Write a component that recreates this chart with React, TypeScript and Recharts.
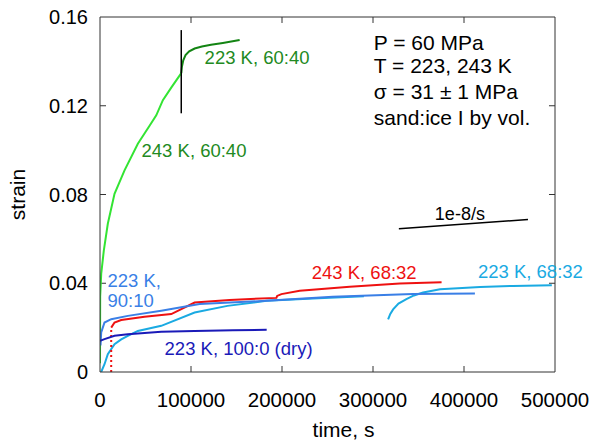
import React from 'react';
import { LineChart, Line, XAxis, YAxis, ReferenceDot, ReferenceLine } from 'recharts';

const FONT = '"Liberation Sans", Arial, Helvetica, sans-serif';
const FRAME = '#333';

const X_TICKS = [0, 100000, 200000, 300000, 400000, 500000];
const Y_TICKS = [0, 0.04, 0.08, 0.12, 0.16];
const X_MAX = 500000;
const Y_MAX = 0.16;
// inward tick length, in data units (about 6 px each way)
const X_TICK_LEN = 0.0027;
const Y_TICK_LEN = 6600;

// 243 K, 60:40 (light green)
const warm6040Time = [0, 200, 1320, 4180, 8580, 15950, 26950, 41580, 54460, 61830, 69090, 78660, 89330];
const warm6040Strain = [0.004, 0.034, 0.0442, 0.0547, 0.0668, 0.0803, 0.0909, 0.1029, 0.111, 0.1157, 0.1225, 0.1284, 0.1347];

// 223 K, 60:40 (dark green)
const cold6040Time = [89330, 90000, 91500, 94000, 98000, 104000, 112000, 122000, 135000, 153460];
const cold6040Strain = [0.1347, 0.1375, 0.1405, 0.1428, 0.1445, 0.1458, 0.1467, 0.1475, 0.1483, 0.1496];

// 223 K, 68:32 (cyan), two runs
const cold6832aTime = [1300, 4950, 8580, 15950, 23320, 30580, 41580, 67330, 103960, 140000, 183000, 240000, 290000];
const cold6832aStrain = [0.0, 0.0035, 0.008, 0.0125, 0.0147, 0.0163, 0.0185, 0.0208, 0.0268, 0.0298, 0.0321, 0.0332, 0.0341];
const cold6832bTime = [316600, 319000, 322100, 328000, 336700, 345000, 355000, 373700, 417700, 454000, 496500];
const cold6832bStrain = [0.0237, 0.0262, 0.0282, 0.0308, 0.0328, 0.0345, 0.0358, 0.0373, 0.0383, 0.0388, 0.0391];

// 243 K, 68:32 (red)
const warm6832RiseTime = [12300, 12320];
const warm6832RiseStrain = [0.0, 0.02];
const warm6832Time = [12320, 15950, 23320, 48950, 78330, 103960, 142460, 193840, 194700, 199340, 219470, 274480, 329480, 375360];
const warm6832Strain = [0.02, 0.0223, 0.0234, 0.0249, 0.0261, 0.0313, 0.0325, 0.0334, 0.0343, 0.0351, 0.0366, 0.0384, 0.0399, 0.0404];

// 223 K, 90:10 (blue)
const cold9010Time = [550, 1320, 4950, 12320, 30580, 67330, 109460, 182840, 255780, 343780, 411990];
const cold9010Strain = [0.012, 0.0178, 0.0223, 0.0238, 0.0253, 0.0276, 0.0306, 0.0321, 0.0339, 0.0351, 0.0354];

// 223 K, 100:0 dry (dark blue)
const cold1000Time = [0, 4950, 15950, 30580, 67330, 103960, 146090, 183170];
const cold1000Strain = [0.014, 0.0148, 0.0163, 0.017, 0.0181, 0.0185, 0.0188, 0.019];

// reference marks
const splitTime = [89300, 89300];
const splitStrain = [0.1166, 0.1541];
const rateTime = [328400, 470300];
const rateStrain = [0.0646, 0.0687];

// text labels
const noteText = [
  '223 K, 60:40', '243 K, 60:40', '223 K,', '90:10', '223 K, 100:0 (dry)',
  '243 K, 68:32', '223 K, 68:32', '1e-8/s',
  'P = 60 MPa', 'T = 223, 243 K', 'σ = 31 ± 1 MPa', 'sand:ice I by vol.',
];
const noteTime = [114960, 45650, 8250, 8250, 70960, 232670, 415300, 367990, 300880, 300880, 300880, 300880];
const noteStrain = [0.1419, 0.0999, 0.0411, 0.0324, 0.0108, 0.0449, 0.0452, 0.0716, 0.1484, 0.1383, 0.1262, 0.1149];
const noteColor = [
  '#228a22', '#228a22', '#3a7fe6', '#3a7fe6', '#1a1ab8',
  '#ee1111', '#1aaae2', '#000', '#000', '#000', '#000', '#000',
];
const noteSize = [18.5, 18.5, 18.5, 18.5, 18.5, 18.5, 18.5, 18, 21, 21, 21, 21];

const zip = (t: number[], s: number[]) => t.map((v, i) => ({ t: v, s: s[i] }));

const series = [
  { key: 'warm6040', data: zip(warm6040Time, warm6040Strain), color: '#33e433', dash: undefined },
  { key: 'cold6040', data: zip(cold6040Time, cold6040Strain), color: '#138413', dash: undefined },
  { key: 'cold6832a', data: zip(cold6832aTime, cold6832aStrain), color: '#1aaae2', dash: undefined },
  { key: 'cold6832b', data: zip(cold6832bTime, cold6832bStrain), color: '#1aaae2', dash: undefined },
  { key: 'warm6832rise', data: zip(warm6832RiseTime, warm6832RiseStrain), color: '#ee1111', dash: '2 3' },
  { key: 'warm6832', data: zip(warm6832Time, warm6832Strain), color: '#ee1111', dash: undefined },
  { key: 'cold9010', data: zip(cold9010Time, cold9010Strain), color: '#3a7fe6', dash: undefined },
  { key: 'cold1000', data: zip(cold1000Time, cold1000Strain), color: '#1a1ab8', dash: undefined },
  { key: 'split', data: zip(splitTime, splitStrain), color: '#000', dash: undefined },
  { key: 'rate', data: zip(rateTime, rateStrain), color: '#000', dash: undefined },
];

export default function App() {
  return (
    <div style={{ position: 'absolute', left: 0, top: 0, background: '#fff' }}>
      <LineChart width={592} height={441} margin={{ top: 17, right: 37, bottom: 0, left: 0 }}>
        <XAxis
          dataKey="t"
          type="number"
          domain={[0, X_MAX]}
          ticks={X_TICKS}
          interval={0}
          allowDataOverflow
          height={69}
          tickLine={false}
          tickSize={-6}
          tickMargin={26}
          stroke={FRAME}
          tick={{ fill: '#000', fontSize: 20.5, fontFamily: FONT }}
          label={{ value: 'time, s', position: 'insideBottom', offset: 4, dx: 16, fill: '#000', fontSize: 21, fontFamily: FONT }}
        />
        <YAxis
          type="number"
          domain={[0, Y_MAX]}
          ticks={Y_TICKS}
          interval={0}
          allowDataOverflow
          width={100}
          tickLine={false}
          tickSize={-6}
          tickMargin={18}
          stroke={FRAME}
          tick={{ fill: '#000', fontSize: 20, fontFamily: FONT }}
          tickFormatter={(v: number) => (v === 0 ? '0' : v.toFixed(2))}
          label={{ value: 'strain', angle: -90, position: 'insideLeft', offset: 18, fill: '#000', fontSize: 21, fontFamily: FONT, style: { textAnchor: 'middle' } }}
        />
        {/* top and right frame */}
        <ReferenceLine y={Y_MAX} stroke={FRAME} ifOverflow="visible" />
        <ReferenceLine x={X_MAX} stroke={FRAME} ifOverflow="visible" />
        {/* inward ticks on all four sides */}
        {X_TICKS.slice(1, -1).map((t) => (
          <ReferenceLine key={`xb-${t}`} segment={[{ x: t, y: 0 }, { x: t, y: X_TICK_LEN }]} stroke={FRAME} ifOverflow="visible" />
        ))}
        {X_TICKS.slice(1, -1).map((t) => (
          <ReferenceLine key={`xt-${t}`} segment={[{ x: t, y: Y_MAX }, { x: t, y: Y_MAX - X_TICK_LEN }]} stroke={FRAME} ifOverflow="visible" />
        ))}
        {Y_TICKS.slice(1, -1).map((v) => (
          <ReferenceLine key={`yl-${v}`} segment={[{ x: 0, y: v }, { x: Y_TICK_LEN, y: v }]} stroke={FRAME} ifOverflow="visible" />
        ))}
        {Y_TICKS.slice(1, -1).map((v) => (
          <ReferenceLine key={`yr-${v}`} segment={[{ x: X_MAX, y: v }, { x: X_MAX - Y_TICK_LEN, y: v }]} stroke={FRAME} ifOverflow="visible" />
        ))}
        {series.map((s) => (
          <Line
            key={s.key}
            data={s.data}
            dataKey="s"
            type="linear"
            stroke={s.color}
            strokeWidth={s.key === 'split' || s.key === 'rate' ? 1.5 : 2}
            strokeDasharray={s.dash}
            dot={false}
            activeDot={false}
            isAnimationActive={false}
          />
        ))}
        {noteText.map((text, i) => (
          <ReferenceDot
            key={`note-${i}`}
            x={noteTime[i]}
            y={noteStrain[i]}
            r={0}
            fill="none"
            stroke="none"
            label={{ value: text, position: 'right', offset: 0, fill: noteColor[i], fontSize: noteSize[i], fontFamily: FONT }}
          />
        ))}
      </LineChart>
    </div>
  );
}
